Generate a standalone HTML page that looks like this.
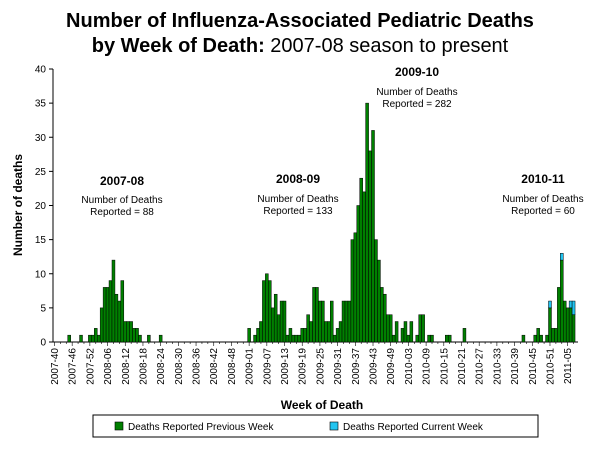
<!DOCTYPE html>
<html><head><meta charset="utf-8"><style>
body{margin:0;background:#fff;}
svg{display:block;font-family:"Liberation Sans",Arial,sans-serif;}
</style></head><body>
<svg id="chart" width="600" height="450" viewBox="0 0 600 450" xmlns="http://www.w3.org/2000/svg">
<text x="300" y="27" text-anchor="middle" font-size="20" font-weight="bold">Number of Influenza-Associated Pediatric Deaths</text>
<text x="300" y="52" text-anchor="middle" font-size="20"><tspan font-weight="bold">by Week of Death:</tspan> 2007-08 season to present</text>
<text transform="translate(22,205) rotate(-90)" text-anchor="middle" font-size="12" font-weight="bold">Number of deaths</text>
<text x="322" y="409" text-anchor="middle" font-size="12" font-weight="bold">Week of Death</text>
<g id="plot"></g>
<g font-size="10" text-anchor="middle">
<text x="122" y="185" font-size="12" font-weight="bold">2007-08</text>
<text x="122" y="203">Number of Deaths</text><text x="122" y="215">Reported = 88</text></g>
<g font-size="10" text-anchor="middle">
<text x="298" y="183" font-size="12" font-weight="bold">2008-09</text>
<text x="298" y="202">Number of Deaths</text><text x="298" y="214">Reported = 133</text></g>
<g font-size="10" text-anchor="middle">
<text x="417" y="76" font-size="12" font-weight="bold">2009-10</text>
<text x="417" y="95">Number of Deaths</text><text x="417" y="107">Reported = 282</text></g>
<g font-size="10" text-anchor="middle">
<text x="543" y="183" font-size="12" font-weight="bold">2010-11</text>
<text x="543" y="202">Number of Deaths</text><text x="543" y="214">Reported = 60</text></g>
<g>
<rect x="93" y="415" width="445" height="22" fill="#fff" stroke="#000" stroke-width="1"/>
<g>
<rect x="115" y="422" width="8" height="8" fill="#008000" stroke="#000" stroke-width="0.6"/>
<text x="128" y="430" font-size="10">Deaths Reported Previous Week</text></g>
<g>
<rect x="330" y="422" width="8" height="8" fill="#21c4f0" stroke="#000" stroke-width="0.6"/>
<text x="343" y="430" font-size="10">Deaths Reported Current Week</text></g>
</g>
</svg>
<script>
const prevWeek = [
0,0,0,0,0,1,0,0,0,1,
0,0,1,1,2,1,5,8,8,9,
12,7,6,9,3,3,3,2,2,1,
0,0,1,0,0,0,1,0,0,0,
0,0,0,0,0,0,0,0,0,0,
0,0,0,0,0,0,0,0,0,0,
0,0,0,0,0,0,2,0,1,2,
3,9,10,9,5,7,4,6,6,1,
2,1,1,1,2,2,4,3,8,8,
6,6,3,3,6,1,2,3,6,6,
6,15,16,20,24,22,35,28,31,15,
12,8,7,4,4,1,3,0,2,3,
1,3,0,1,4,4,0,1,1,0,
0,0,0,1,1,0,0,0,0,2,
0,0,0,0,0,0,0,0,0,0,
0,0,0,0,0,0,0,0,0,1,
0,0,0,1,2,1,0,1,5,2,
2,8,12,6,5,5,4,0];
const curWeek = {168:1,172:1,175:1,176:2};
const yTicks = [0,5,10,15,20,25,30,35,40];
const startYear = 2007, startWeek = 40;
const weeksInYear = {2007:52,2008:53,2009:52,2010:52,2011:52};
const weeks = [];
(function(){let y=startYear,w=startWeek;for(let i=0;i<prevWeek.length;i++){weeks.push(y+'-'+String(w).padStart(2,'0'));w++;if(w>weeksInYear[y]){w=1;y++;}}})();

const NS='http://www.w3.org/2000/svg';
const X0=53,X1=578,Y0=342,Y1=69,YMAX=40;
const bw=(X1-X0)/weeks.length;
const xs=i=>X0+bw*i;
const ys=v=>Y0-(v/YMAX)*(Y0-Y1);
const plot=document.getElementById('plot');
function mk(tag,a){const e=document.createElementNS(NS,tag);for(const k in a)e.setAttribute(k,a[k]);return e;}

// axes
const yAxis=mk('line',{x1:X0,y1:Y1,x2:X0,y2:Y0,stroke:'#000','stroke-width':1});


plot.appendChild(yAxis);
yTicks.forEach(t=>{
  const tk=mk('line',{x1:X0-4,y1:ys(t),x2:X0,y2:ys(t),stroke:'#000','stroke-width':1});
  
  
  plot.appendChild(tk);
  const lb=mk('text',{x:X0-7,y:ys(t)+3.5,'text-anchor':'end','font-size':10});
  
  
  lb.textContent=t;plot.appendChild(lb);
});
const xAxis=mk('line',{x1:X0,y1:Y0,x2:X1,y2:Y0,stroke:'#000','stroke-width':1});


plot.appendChild(xAxis);

// bars
prevWeek.forEach((v,i)=>{
  const c=curWeek[i]||0;
  if(v>0){
    const r=mk('rect',{x:xs(i),y:ys(v),width:bw,height:Y0-ys(v),fill:'#008000',stroke:'#000','stroke-width':0.5});
    
    
    plot.appendChild(r);
  }
  if(c>0){
    const r=mk('rect',{x:xs(i),y:ys(v+c),width:bw,height:ys(v)-ys(v+c),fill:'#21c4f0',stroke:'#000','stroke-width':0.5});
    
    
    plot.appendChild(r);
  }
});

// x ticks and labels
weeks.forEach((w,i)=>{
  const cx=xs(i)+bw/2;
  const major=i%6===0;
  if(i%2===0||major){
    const tk=mk('line',{x1:cx,y1:Y0,x2:cx,y2:Y0+(major?4:2),stroke:'#000','stroke-width':0.6});
    
    
    plot.appendChild(tk);
  }
  if(major){
    const lb=mk('text',{transform:'translate('+(cx+3.5)+',348) rotate(-90)','text-anchor':'end','font-size':10});
    
    
    lb.textContent=w;plot.appendChild(lb);
  }
});
</script>
</body></html>
